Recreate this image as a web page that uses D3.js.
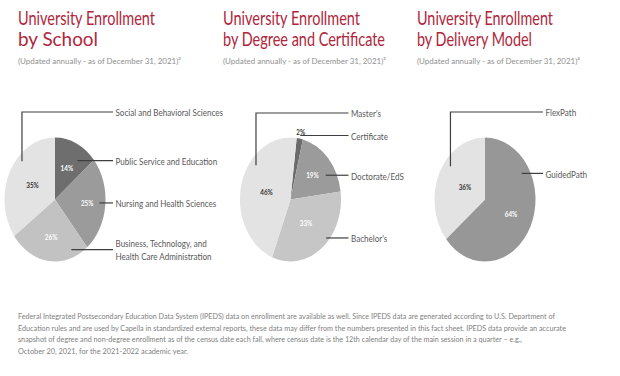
<!DOCTYPE html>
<html>
<head>
<meta charset="utf-8">
<script src="https://cdn.jsdelivr.net/npm/d3@7"></script>
<style>
  body { margin: 0; background: #fff; }
  svg { display: block; font-family: Lato, "Open Sans", sans-serif; }
</style>
</head>
<body>
<svg id="chart" width="620" height="376"></svg>
<script>
// data
const schoolLabels = ["Public Service and Education", "Nursing and Health Sciences", "Business, Technology, and|Health Care Administration", "Social and Behavioral Sciences"];
const schoolValues = [14, 25, 26, 35];

const degreeLabels = ["Certificate", "Doctorate/EdS", "Bachelor's", "Master's"];
const degreeValues = [2, 19, 33, 46];

const deliveryLabels = ["GuidedPath", "FlexPath"];
const deliveryValues = [64, 36];

const titles = [
  ["University Enrollment", "by School"],
  ["University Enrollment", "by Degree and Certificate"],
  ["University Enrollment", "by Delivery Model"]
];
const subtitles = [
  "(Updated annually - as of December 31, 2021)\u00B2",
  "(Updated annually - as of December 31, 2021)\u00B3",
  "(Updated annually - as of December 31, 2021)\u2074"
];

const footnote = [
  "Federal Integrated Postsecondary Education Data System (IPEDS) data on enrollment are available as well. Since IPEDS data are generated according to U.S. Department of",
  "Education rules and are used by Capella in standardized external reports, these data may differ from the numbers presented in this fact sheet. IPEDS data provide an accurate",
  "snapshot of degree and non-degree enrollment as of the census date each fall, where census date is the 12th calendar day of the main session in a quarter \u2013 e.g.,",
  "October 20, 2021, for the 2021-2022 academic year."
];

// layout for each panel
const panels = [
  {
    x: 18, cx: 55, labels: schoolLabels, values: schoolValues, start: 0,
    fills: ["#6e6e6e", "#9b9b9b", "#c2c2c2", "#e3e3e3"],
    pctColor: ["#fff", "#fff", "#fff", "#333"],
    pctR: [0.55, 0.64, 0.62, 0.5],
    // where each leader leaves its slice (fraction through slice, radius factor)
    lead: [[0.7, 0.77], [0.48, 0.88], [0.19, 0.87], [0.63, 0.9]],
    elbowY: [null, null, null, 112],
    titleW: [137, 80]
  },
  {
    x: 223, cx: 290.5, labels: degreeLabels, values: degreeValues, start: 7,
    fills: ["#6b6b6b", "#9b9b9b", "#c6c6c6", "#e3e3e3"],
    pctColor: ["#333", "#fff", "#fff", "#333"],
    pctR: [1.1, 0.58, 0.5, 0.49],
    lead: [[0.5, 1.05], [0.68, 0.8], [0.41, 0.94], [0.65, 0.88]],
    elbowY: [null, null, null, 113],
    titleW: [137, 162]
  },
  {
    x: 417, cx: 485, labels: deliveryLabels, values: deliveryValues, start: 0,
    fills: ["#979797", "#e3e3e3"],
    pctColor: ["#fff", "#333"],
    pctR: [0.57, 0.44],
    lead: [[0.26, 0.84], [0.6, 0.87]],
    elbowY: [null, 112],
    titleW: [136, 115]
  }
];

const cy = 199.5, rx = 50.5, ry = 62;
const labelGap = 58;
// the sheet is squeezed sideways, so text is narrowed to match
const squeeze = 0.84;

const svg = d3.select("#chart");

function narrow(sel, k) {
  sel.each(function() {
    const w = this.getComputedTextLength();
    d3.select(this).attr("textLength", w * k).attr("lengthAdjust", "spacingAndGlyphs");
  });
}

panels.forEach((p, i) => {
  // titles
  const t = svg.append("g");
  titles[i].forEach((line, j) => {
    t.append("text")
      .attr("x", p.x)
      .attr("y", 25 + j * 21)
      .attr("fill", "#b0263b")
      .attr("font-size", 18.5)
      .attr("textLength", p.titleW[j])
      .attr("lengthAdjust", "spacingAndGlyphs")
      .text(line);
  });
  t.append("text")
    .attr("x", p.x)
    .attr("y", 64)
    .attr("fill", "#909090")
    .attr("font-size", 8.2)
    .attr("textLength", 163)
    .attr("lengthAdjust", "spacingAndGlyphs")
    .text(subtitles[i]);

  // pie
  const pie = d3.pie().sort(null)
    .startAngle(p.start * Math.PI / 180)
    .endAngle((p.start + 360) * Math.PI / 180);
  const arcs = pie(p.values);
  const arc = d3.arc().innerRadius(0).outerRadius(1);

  const pieG = svg.append("g")
    .attr("transform", `translate(${p.cx},${cy}) scale(${rx},${ry})`);
  pieG.selectAll("path")
    .data(arcs)
    .enter().append("path")
    .attr("d", arc)
    .attr("fill", (d, k) => p.fills[k]);

  // point on the ellipse at angle a, radius factor r
  const pt = (a, r) => [p.cx + rx * r * Math.sin(a), cy - ry * r * Math.cos(a)];

  // percent labels
  svg.append("g").selectAll("text")
    .data(arcs)
    .enter().append("text")
    .attr("x", (d, k) => pt((d.startAngle + d.endAngle) / 2, p.pctR[k])[0])
    .attr("y", (d, k) => pt((d.startAngle + d.endAngle) / 2, p.pctR[k])[1])
    .attr("dy", "0.35em")
    .attr("text-anchor", "middle")
    .attr("font-size", 7.2)
    .attr("font-weight", "bold")
    .attr("fill", (d, k) => p.pctColor[k])
    .text(d => d.data + "%")
    .call(narrow, 0.88);

  // leader lines and category labels
  const lx = p.cx + labelGap;
  arcs.forEach((d, k) => {
    const a = d.startAngle + (d.endAngle - d.startAngle) * p.lead[k][0];
    const s = pt(a, p.lead[k][1]);
    const ly = p.elbowY[k] == null ? s[1] : p.elbowY[k];
    const pts = p.elbowY[k] == null ? [s, [lx, ly]] : [s, [s[0], ly], [lx, ly]];
    svg.append("path")
      .attr("d", d3.line()(pts))
      .attr("fill", "none")
      .attr("stroke", "#3f3f3f")
      .attr("stroke-width", 1.2);
    const parts = p.labels[k].split("|");
    parts.forEach((txt, m) => {
      svg.append("text")
        .attr("x", lx + 2.5)
        .attr("y", ly + (m - (parts.length - 1) / 2) * 13 + 1)
        .attr("dy", "0.35em")
        .attr("font-size", 9.6)
        .attr("fill", "#595959")
        .text(txt)
        .call(narrow, squeeze);
    });
  });
});

// footnote
const lineW = [537, 548, 504, 170];
svg.append("g").selectAll("text")
  .data(footnote)
  .enter().append("text")
  .attr("x", 18)
  .attr("y", (d, i) => 319 + i * 11.7)
  .attr("font-size", 7.6)
  .attr("fill", "#808080")
  .attr("textLength", (d, i) => lineW[i])
  .attr("lengthAdjust", "spacingAndGlyphs")
  .text(d => d);
</script>
</body>
</html>
